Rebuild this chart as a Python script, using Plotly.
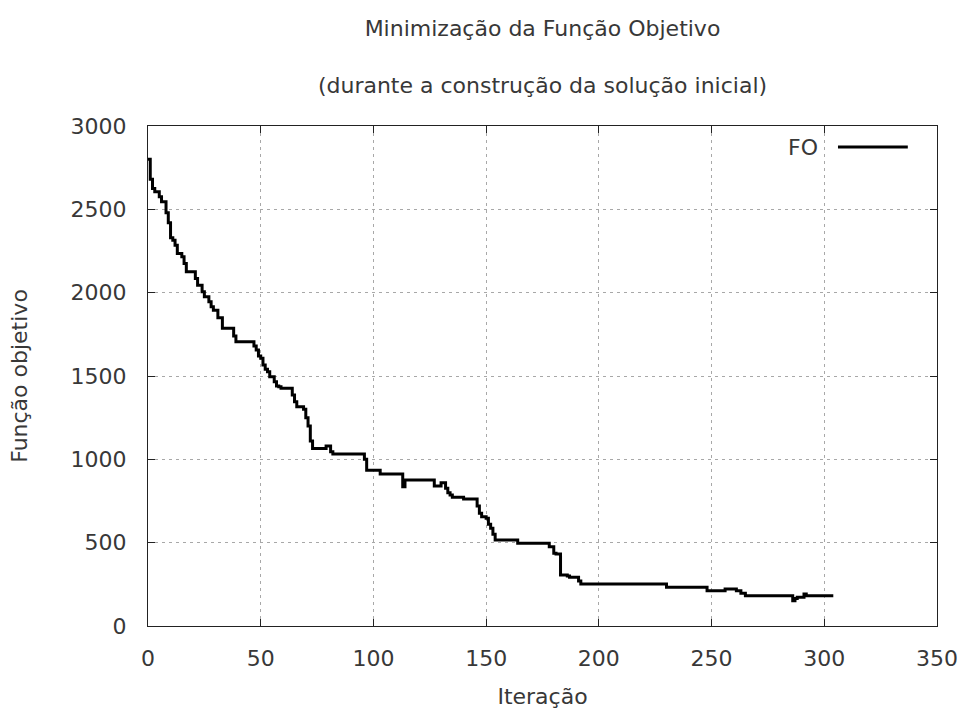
import plotly.graph_objects as go

# Iterations where the objective value changes (step points) and the values
iteracao = [0, 1, 2, 3, 5, 6, 8, 9, 10, 11, 12, 13, 15, 16, 17, 21, 22, 24, 25, 27,
            28, 29, 31, 33, 38, 39, 47, 48, 49, 50, 51, 52, 53, 54, 56, 57, 58, 59,
            64, 65, 66, 69, 70, 71, 72, 73, 79, 81, 82, 96, 97, 103, 113, 114, 127,
            130, 132, 133, 134, 135, 140, 146, 147, 148, 150, 151, 152, 153, 154,
            164, 178, 180, 181, 183, 186, 187, 191, 192, 230, 248, 256, 261, 263,
            265, 286, 287, 288, 291, 292, 304]
fo = [2800, 2680, 2625, 2605, 2575, 2545, 2480, 2420, 2330, 2315, 2285, 2235, 2215,
      2175, 2125, 2085, 2045, 2005, 1975, 1945, 1915, 1895, 1850, 1786, 1740, 1706,
      1680, 1656, 1620, 1606, 1566, 1540, 1526, 1496, 1466, 1440, 1436, 1426, 1386,
      1346, 1316, 1300, 1250, 1200, 1110, 1065, 1080, 1045, 1032, 1000, 935, 912,
      836, 876, 840, 860, 826, 800, 786, 772, 762, 720, 676, 656, 646, 610, 586,
      550, 516, 496, 475, 436, 432, 306, 300, 292, 270, 252, 232, 212, 222, 212,
      196, 182, 152, 165, 172, 192, 182, 182]

x_ticks = [0, 50, 100, 150, 200, 250, 300, 350]
y_ticks = [0, 500, 1000, 1500, 2000, 2500, 3000]

FONT = "DejaVu Sans"
TXT = "#383838"
FS = 22

fig = go.Figure()
fig.add_trace(go.Scatter(
    x=iteracao, y=fo, mode="lines", name="FO",
    line=dict(color="black", width=3, shape="hv"),
    showlegend=False,
))

axis_common = dict(
    showline=True, linecolor="#222222", linewidth=1, mirror="ticks",
    ticks="inside", ticklen=7, tickcolor="#222222", tickwidth=1,
    showgrid=True, gridcolor="#a8a8a8", gridwidth=1, griddash="3px,4px",
    zeroline=False, tickfont=dict(family=FONT, size=FS, color=TXT),
    automargin=False,
)

fig.update_xaxes(range=[0, 350], tickvals=x_ticks, ticktext=[str(v) for v in x_ticks],
                 ticklabelstandoff=13,
                 title=dict(text="Iteração", font=dict(family=FONT, size=FS, color=TXT), standoff=18),
                 **axis_common)
fig.update_yaxes(range=[0, 3000], tickvals=y_ticks, ticktext=[str(v) for v in y_ticks],
                 ticklabelstandoff=16,
                 title=dict(text="Função objetivo", font=dict(family=FONT, size=FS, color=TXT), standoff=36),
                 **axis_common)

# legend drawn gnuplot-style: label on the left, line sample on the right
fig.add_annotation(text="FO", xref="paper", yref="paper", x=0.852, y=0.958,
                   xanchor="right", yanchor="middle", showarrow=False,
                   font=dict(family=FONT, size=FS, color=TXT))
fig.add_shape(type="line", xref="paper", yref="paper", x0=0.8745, x1=0.963,
              y0=0.958, y1=0.958, line=dict(color="black", width=3))

fig.update_layout(
    width=962, height=711,
    margin=dict(l=148, r=25, t=126, b=85),
    paper_bgcolor="white", plot_bgcolor="white",
    title=dict(text="Minimização da Função Objetivo<br><br>(durante a construção da solução inicial)",
               x=0.5, xref="paper", xanchor="center",
               y=1 - 36 / 711, yref="container", yanchor="top",
               font=dict(family=FONT, size=FS, color=TXT)),
    font=dict(family=FONT, size=FS, color=TXT),
)

fig.write_html("out.html")
